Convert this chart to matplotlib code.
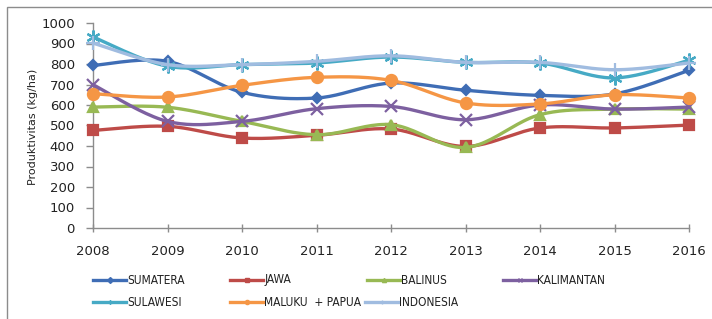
import numpy as np
import matplotlib
matplotlib.use("Agg")
import matplotlib.pyplot as plt
from matplotlib.lines import Line2D
from matplotlib.patches import Rectangle
from matplotlib import font_manager

years = [2008, 2009, 2010, 2011, 2012, 2013, 2014, 2015, 2016]

sumatera   = [793, 813, 662, 634, 707, 672, 647, 654, 769]
jawa       = [476, 496, 439, 452, 483, 398, 488, 488, 502]
balinus    = [590, 589, 520, 455, 504, 393, 553, 580, 580]
kalimantan = [699, 520, 520, 582, 593, 528, 600, 580, 590]
sulawesi   = [932, 789, 797, 805, 834, 808, 805, 732, 818]
maluku     = [655, 639, 696, 735, 720, 610, 605, 650, 634]
indonesia  = [902, 797, 797, 813, 840, 808, 808, 772, 805]

names = ["SUMATERA", "JAWA", "BALINUS", "KALIMANTAN", "SULAWESI", "MALUKU  + PAPUA", "INDONESIA"]
series = [sumatera, jawa, balinus, kalimantan, sulawesi, maluku, indonesia]
colors = ["#3F6DB5", "#BE4B48", "#98B954", "#7D60A0", "#46AAC5", "#F59645", "#A0BCE0"]
markers = ["D", "s", "^", "x", (6, 2, 0), "o", "+"]
msizes = [5, 7, 7, 8, 10, 8, 10]

W, H = 712, 319
fig = plt.figure(figsize=(W / 100, H / 100), dpi=100)

def fx(px):
    return px / W

def fy(py):
    return 1 - py / H

ax = fig.add_axes([fx(93), fy(228), fx(689) - fx(93), fy(23) - fy(228)])


def smooth(x, y, n=24):
    x = np.asarray(x, float)
    y = np.asarray(y, float)
    P = np.column_stack([x, y])
    Pext = np.vstack([P[0], P, P[-1]])
    out = []
    for i in range(len(P) - 1):
        p0, p1, p2, p3 = Pext[i], Pext[i + 1], Pext[i + 2], Pext[i + 3]
        c1 = p1 + (p2 - p0) / 6.0
        c2 = p2 - (p3 - p1) / 6.0
        t = np.linspace(0, 1, n)[:, None]
        seg = ((1 - t) ** 3) * p1 + 3 * ((1 - t) ** 2) * t * c1 + 3 * (1 - t) * t ** 2 * c2 + t ** 3 * p2
        if i > 0:
            seg = seg[1:]
        out.append(seg)
    S = np.vstack(out)
    return S[:, 0], S[:, 1]


for i, (vals, c, m, ms) in enumerate(zip(series, colors, markers, msizes)):
    sx, sy = smooth(years, vals)
    ax.plot(sx, sy, color=c, lw=2.4, zorder=2 + i, solid_capstyle="round")
    ax.plot(years, vals, linestyle="none", marker=m, markersize=ms, color=c,
            markeredgecolor=c, markeredgewidth=1.6, zorder=2 + i)

ax.set_xlim(2008, 2016)
ax.set_ylim(0, 1000)
ax.set_xticks(years)
ax.set_yticks(range(0, 1001, 100))
for s in ["top", "right"]:
    ax.spines[s].set_visible(False)
for s in ["left", "bottom"]:
    ax.spines[s].set_color("#8C8C8C")
    ax.spines[s].set_linewidth(1.0)
    ax.spines[s].set_zorder(1)
ax.tick_params(axis="y", direction="out", length=5, width=1, color="#8C8C8C",
               labelsize=9.5, pad=8, labelcolor="#222222")
ax.tick_params(axis="x", direction="inout", length=6, width=1, color="#8C8C8C",
               labelsize=9.5, pad=9, labelcolor="#222222")
for ln in ax.lines:
    ln.set_clip_on(False)

fig.text(fx(33), fy(127), "Produktivitas (kg/ha)", rotation=90, ha="center", va="center",
         fontsize=8, color="#222222")

# outer border
fig.add_artist(Rectangle((fx(7), fy(330)), fx(720) - fx(7), fy(7) - fy(330),
                         transform=fig.transFigure, fill=False, edgecolor="#8C8C8C", lw=1.0))

# legend (manual, Excel-like layout)
avail = {f.name for f in font_manager.fontManager.ttflist}
legfam = "DejaVu Sans"
for cand in ["Liberation Sans Narrow", "DejaVu Sans Condensed"]:
    if cand in avail:
        legfam = cand
        break
leg_pos = [(93, 280), (230, 280), (367, 280), (503, 280),
           (93, 302), (230, 302), (365, 302)]
for (x0, y0), name, c, m in zip(leg_pos, names, colors, markers):
    fig.add_artist(Line2D([fx(x0), fx(x0 + 33)], [fy(y0), fy(y0)], transform=fig.transFigure,
                          color=c, lw=2.4))
    fig.add_artist(Line2D([fx(x0 + 16.5)], [fy(y0)], transform=fig.transFigure,
                          color=c, marker=m, markersize=3, linestyle="none"))
    fig.text(fx(x0 + 34), fy(y0), name, ha="left", va="center", fontsize=8.6,
             family=legfam, color="#222222",
             fontstretch="condensed" if legfam == "DejaVu Sans" else "normal")

fig.savefig("out.png", dpi=100)
